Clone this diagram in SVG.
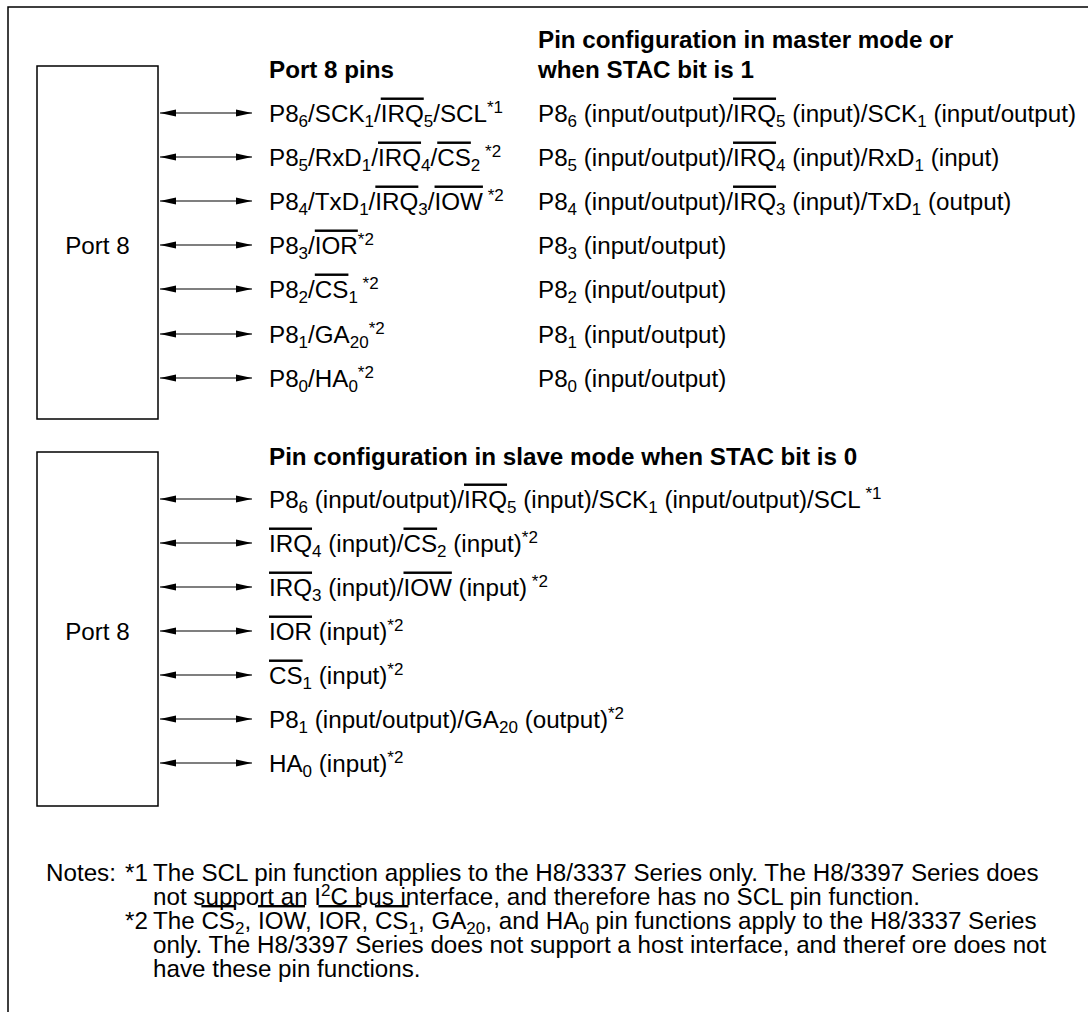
<svg xmlns="http://www.w3.org/2000/svg" width="1088" height="1012" viewBox="0 0 1088 1012">
<style>
text{font-family:"Liberation Sans",Arial,Helvetica,sans-serif;font-size:24.2px;fill:#000}
.b{font-weight:bold}
.s{font-size:17px}
.ol{text-decoration:overline}
.box{fill:#fff;stroke:#000;stroke-width:1.5}
.frame{fill:none;stroke:#000;stroke-width:1.5}
.arr{stroke:#000;stroke-width:1.2;marker-start:url(#ah);marker-end:url(#ah)}
</style>
<defs>
<marker id="ah" markerWidth="16" markerHeight="8" refX="16" refY="4" orient="auto-start-reverse" markerUnits="userSpaceOnUse"><path d="M0,0.4 L16,4 L0,7.6 z" fill="#000"/></marker>
</defs>
<rect width="1088" height="1012" fill="#fff"/>
<path class="frame" d="M8,1012 V7 H1088"/>

<g id="port8-top">
<rect class="box" x="37" y="66" width="121" height="353"/>
<text x="97.5" y="254" text-anchor="middle">Port 8</text>
</g>
<g id="port8-bottom">
<rect class="box" x="37" y="452" width="121" height="354"/>
<text x="97.5" y="640" text-anchor="middle">Port 8</text>
</g>

<g id="connectors">
<line class="arr" x1="160" y1="113" x2="252" y2="113"/>
<line class="arr" x1="160" y1="157" x2="252" y2="157"/>
<line class="arr" x1="160" y1="201" x2="252" y2="201"/>
<line class="arr" x1="160" y1="245" x2="252" y2="245"/>
<line class="arr" x1="160" y1="289" x2="252" y2="289"/>
<line class="arr" x1="160" y1="334" x2="252" y2="334"/>
<line class="arr" x1="160" y1="378" x2="252" y2="378"/>
<line class="arr" x1="160" y1="499" x2="252" y2="499"/>
<line class="arr" x1="160" y1="543" x2="252" y2="543"/>
<line class="arr" x1="160" y1="587" x2="252" y2="587"/>
<line class="arr" x1="160" y1="631" x2="252" y2="631"/>
<line class="arr" x1="160" y1="675" x2="252" y2="675"/>
<line class="arr" x1="160" y1="719" x2="252" y2="719"/>
<line class="arr" x1="160" y1="763" x2="252" y2="763"/>
</g>

<g id="headers">
<text class="b" x="269" y="78">Port 8 pins</text>
<text class="b" x="538" y="48">Pin configuration in master mode or</text>
<text class="b" x="538" y="78">when STAC bit is 1</text>
<text class="b" x="269" y="465">Pin configuration in slave mode when STAC bit is 0</text>
</g>

<g id="pins-top">
<text x="269" y="121.5">P8<tspan class="s" dy="5">6</tspan><tspan dy="-5">/SCK</tspan><tspan class="s" dy="5">1</tspan><tspan dy="-5">/</tspan><tspan class="ol">IRQ</tspan><tspan class="s" dy="5">5</tspan><tspan dy="-5">/SCL</tspan><tspan class="s" dy="-9">*1</tspan></text>
<text x="269" y="165.5">P8<tspan class="s" dy="5">5</tspan><tspan dy="-5">/RxD</tspan><tspan class="s" dy="5">1</tspan><tspan dy="-5">/</tspan><tspan class="ol">IRQ</tspan><tspan class="s" dy="5">4</tspan><tspan dy="-5">/</tspan><tspan class="ol">CS</tspan><tspan class="s" dy="5">2</tspan><tspan class="s" dy="-14"> *2</tspan></text>
<text x="269" y="209.5">P8<tspan class="s" dy="5">4</tspan><tspan dy="-5">/TxD</tspan><tspan class="s" dy="5">1</tspan><tspan dy="-5">/</tspan><tspan class="ol">IRQ</tspan><tspan class="s" dy="5">3</tspan><tspan dy="-5">/</tspan><tspan class="ol">IOW</tspan><tspan class="s" dy="-9"> *2</tspan></text>
<text x="269" y="253.5">P8<tspan class="s" dy="5">3</tspan><tspan dy="-5">/</tspan><tspan class="ol">IOR</tspan><tspan class="s" dy="-9">*2</tspan></text>
<text x="269" y="297.5">P8<tspan class="s" dy="5">2</tspan><tspan dy="-5">/</tspan><tspan class="ol">CS</tspan><tspan class="s" dy="5">1</tspan><tspan class="s" dy="-14"> *2</tspan></text>
<text x="269" y="342.5">P8<tspan class="s" dy="5">1</tspan><tspan dy="-5">/GA</tspan><tspan class="s" dy="5">20</tspan><tspan class="s" dy="-14">*2</tspan></text>
<text x="269" y="386.5">P8<tspan class="s" dy="5">0</tspan><tspan dy="-5">/HA</tspan><tspan class="s" dy="5">0</tspan><tspan class="s" dy="-14">*2</tspan></text>
</g>

<g id="master-config">
<text x="538" y="121.5">P8<tspan class="s" dy="5">6</tspan><tspan dy="-5"> (input/output)/</tspan><tspan class="ol">IRQ</tspan><tspan class="s" dy="5">5</tspan><tspan dy="-5"> (input)/SCK</tspan><tspan class="s" dy="5">1</tspan><tspan dy="-5"> (input/output)</tspan></text>
<text x="538" y="165.5">P8<tspan class="s" dy="5">5</tspan><tspan dy="-5"> (input/output)/</tspan><tspan class="ol">IRQ</tspan><tspan class="s" dy="5">4</tspan><tspan dy="-5"> (input)/RxD</tspan><tspan class="s" dy="5">1</tspan><tspan dy="-5"> (input)</tspan></text>
<text x="538" y="209.5">P8<tspan class="s" dy="5">4</tspan><tspan dy="-5"> (input/output)/</tspan><tspan class="ol">IRQ</tspan><tspan class="s" dy="5">3</tspan><tspan dy="-5"> (input)/TxD</tspan><tspan class="s" dy="5">1</tspan><tspan dy="-5"> (output)</tspan></text>
<text x="538" y="253.5">P8<tspan class="s" dy="5">3</tspan><tspan dy="-5"> (input/output)</tspan></text>
<text x="538" y="297.5">P8<tspan class="s" dy="5">2</tspan><tspan dy="-5"> (input/output)</tspan></text>
<text x="538" y="342.5">P8<tspan class="s" dy="5">1</tspan><tspan dy="-5"> (input/output)</tspan></text>
<text x="538" y="386.5">P8<tspan class="s" dy="5">0</tspan><tspan dy="-5"> (input/output)</tspan></text>
</g>

<g id="slave-config">
<text x="269" y="507.5">P8<tspan class="s" dy="5">6</tspan><tspan dy="-5"> (input/output)/</tspan><tspan class="ol">IRQ</tspan><tspan class="s" dy="5">5</tspan><tspan dy="-5"> (input)/SCK</tspan><tspan class="s" dy="5">1</tspan><tspan dy="-5"> (input/output)/SCL</tspan><tspan class="s" dy="-9"> *1</tspan></text>
<text x="269" y="551.5"><tspan class="ol">IRQ</tspan><tspan class="s" dy="5">4</tspan><tspan dy="-5"> (input)/</tspan><tspan class="ol">CS</tspan><tspan class="s" dy="5">2</tspan><tspan dy="-5"> (input)</tspan><tspan class="s" dy="-9">*2</tspan></text>
<text x="269" y="595.5"><tspan class="ol">IRQ</tspan><tspan class="s" dy="5">3</tspan><tspan dy="-5"> (input)/</tspan><tspan class="ol">IOW</tspan><tspan> (input)</tspan><tspan class="s" dy="-9"> *2</tspan></text>
<text x="269" y="639.5"><tspan class="ol">IOR</tspan><tspan> (input)</tspan><tspan class="s" dy="-9">*2</tspan></text>
<text x="269" y="683.5"><tspan class="ol">CS</tspan><tspan class="s" dy="5">1</tspan><tspan dy="-5"> (input)</tspan><tspan class="s" dy="-9">*2</tspan></text>
<text x="269" y="727.5">P8<tspan class="s" dy="5">1</tspan><tspan dy="-5"> (input/output)/GA</tspan><tspan class="s" dy="5">20</tspan><tspan dy="-5"> (output)</tspan><tspan class="s" dy="-9">*2</tspan></text>
<text x="269" y="771.5">HA<tspan class="s" dy="5">0</tspan><tspan dy="-5"> (input)</tspan><tspan class="s" dy="-9">*2</tspan></text>
</g>

<g id="notes">
<text x="46" y="881">Notes:</text>
<text x="125" y="881">*1</text>
<text x="153" y="881">The SCL pin function applies to the H8/3337 Series only. The H8/3397 Series does</text>
<text x="153" y="905">not support an I<tspan class="s" dy="-9">2</tspan><tspan dy="9">C bus interface, and therefore has no SCL pin function.</tspan></text>
<text x="125" y="929">*2</text>
<text x="153" y="929">The <tspan class="ol">CS</tspan><tspan class="s" dy="5">2</tspan><tspan dy="-5">, </tspan><tspan class="ol">IOW</tspan><tspan>, </tspan><tspan class="ol">IOR</tspan><tspan>, </tspan><tspan class="ol">CS</tspan><tspan class="s" dy="5">1</tspan><tspan dy="-5">, GA</tspan><tspan class="s" dy="5">20</tspan><tspan dy="-5">, and HA</tspan><tspan class="s" dy="5">0</tspan><tspan dy="-5"> pin functions apply to the H8/3337 Series</tspan></text>
<text x="153" y="953">only. The H8/3397 Series does not support a host interface, and theref ore does not</text>
<text x="153" y="977">have these pin functions.</text>
</g>
</svg>
